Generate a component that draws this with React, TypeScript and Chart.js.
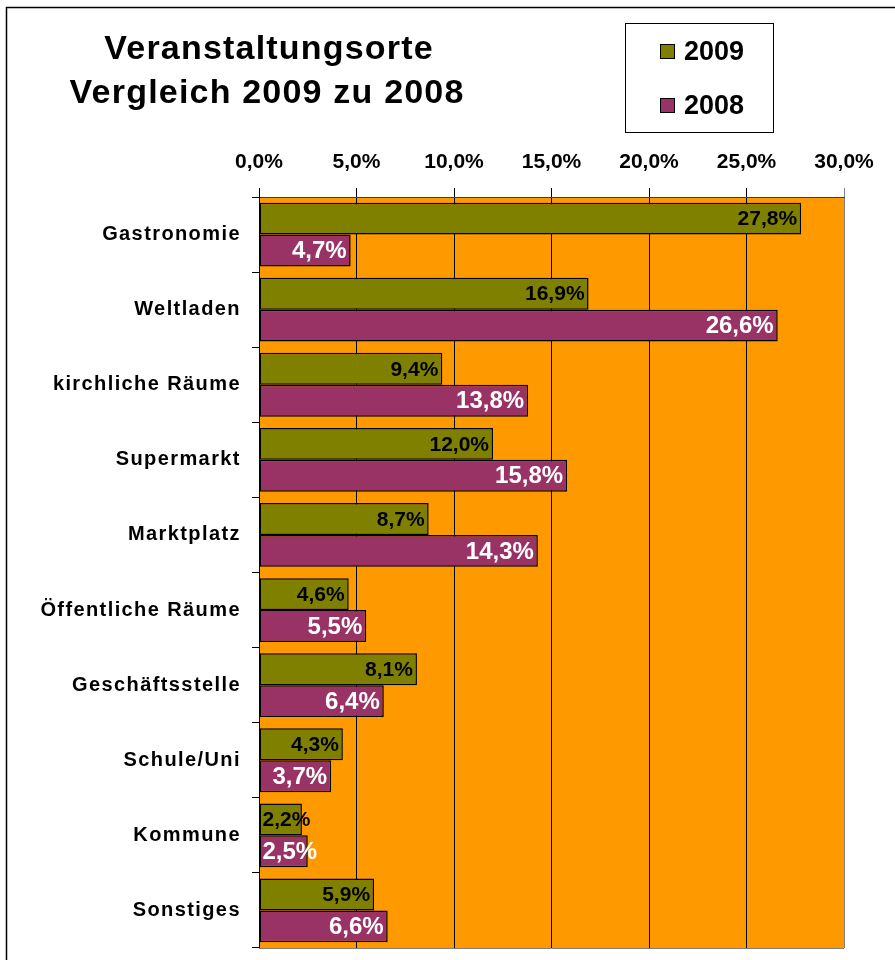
import React, { useEffect, useRef } from "react";
import { Chart, registerables } from "chart.js";

Chart.register(...registerables);

const categories = [
  "Gastronomie",
  "Weltladen",
  "kirchliche Räume",
  "Supermarkt",
  "Marktplatz",
  "Öffentliche Räume",
  "Geschäftsstelle",
  "Schule/Uni",
  "Kommune",
  "Sonstiges",
];
const values2009 = [27.8, 16.9, 9.4, 12.0, 8.7, 4.6, 8.1, 4.3, 2.2, 5.9];
const values2008 = [4.7, 26.6, 13.8, 15.8, 14.3, 5.5, 6.4, 3.7, 2.5, 6.6];
const seriesNames = ["2009", "2008"];
const titleLines = ["Veranstaltungsorte", "Vergleich 2009 zu 2008"];
const xTicks = [0, 5, 10, 15, 20, 25, 30];

const FONT = '"Liberation Sans", Arial, sans-serif';
const GREEN = "#808000";
const PURPLE = "#993366";
const ORANGE = "#FF9900";

const fmt = (v: number) => v.toFixed(1).replace(".", ",") + "%";

const decorPlugin = {
  id: "decor",
  beforeDraw(chart: any) {
    const { ctx, chartArea } = chart;
    ctx.save();
    ctx.fillStyle = "#ffffff";
    ctx.fillRect(0, 0, chart.width, chart.height);
    ctx.fillStyle = ORANGE;
    ctx.fillRect(chartArea.left, chartArea.top, chartArea.right - chartArea.left, chartArea.bottom - chartArea.top);
    // outer frame
    ctx.strokeStyle = "#000000";
    ctx.lineWidth = 1.5;
    ctx.strokeRect(6.5, 7.5, chart.width + 20, chart.height + 20);
    // title
    ctx.fillStyle = "#000000";
    ctx.font = `bold 34px ${FONT}`;
    const tsp = 1.2;
    (ctx as any).letterSpacing = tsp + "px";
    ctx.textAlign = "left";
    ctx.textBaseline = "alphabetic";
    const w1 = ctx.measureText(titleLines[0]).width - tsp;
    const w2 = ctx.measureText(titleLines[1]).width - tsp;
    ctx.fillText(titleLines[0], 268.5 - w1 / 2, 59);
    ctx.fillText(titleLines[1], 266.5 - w2 / 2, 103);
    (ctx as any).letterSpacing = "0px";
    // legend
    ctx.lineWidth = 1;
    ctx.strokeStyle = "#000000";
    ctx.strokeRect(625.5, 23.5, 148, 109);
    const colors = [GREEN, PURPLE];
    const ys = [52, 106];
    ctx.font = `bold 27px ${FONT}`;
    ctx.textAlign = "left";
    ctx.textBaseline = "middle";
    for (let i = 0; i < 2; i++) {
      ctx.fillStyle = colors[i];
      ctx.fillRect(660, ys[i] - 8, 15, 15);
      ctx.strokeStyle = "#000000";
      ctx.strokeRect(660.5, ys[i] - 7.5, 14, 14);
      ctx.fillStyle = "#000000";
      ctx.fillText(seriesNames[i], 684, ys[i] + 1);
    }
    ctx.restore();
  },
  beforeDatasetsDraw(chart: any) {
    const { ctx, chartArea } = chart;
    ctx.save();
    ctx.strokeStyle = "#808080";
    ctx.lineWidth = 1;
    ctx.beginPath();
    ctx.moveTo(chartArea.left, chartArea.bottom + 0.5);
    ctx.lineTo(chartArea.right, chartArea.bottom + 0.5);
    ctx.stroke();
    ctx.restore();
  },
  afterDatasetsDraw(chart: any) {
    const { ctx } = chart;
    ctx.save();
    ctx.textBaseline = "middle";
    chart.data.datasets.forEach((ds: any, di: number) => {
      const meta = chart.getDatasetMeta(di);
      ctx.font = di === 0 ? `bold 21px ${FONT}` : `bold 24px ${FONT}`;
      ctx.fillStyle = di === 0 ? "#000000" : "#ffffff";
      meta.data.forEach((el: any, i: number) => {
        const txt = fmt(ds.data[i]);
        const w = ctx.measureText(txt).width;
        let x = el.x - 4 - w;
        if (x < el.base + 3) x = el.base + 3;
        ctx.textAlign = "left";
        ctx.fillText(txt, x, el.y + 1);
      });
    });
    ctx.restore();
  },
  afterDraw(chart: any) {
    const { ctx } = chart;
    const yScale = chart.scales.y;
    ctx.save();
    ctx.font = `bold 20px ${FONT}`;
    const sp = 1.4;
    (ctx as any).letterSpacing = sp + "px";
    ctx.fillStyle = "#000000";
    ctx.textAlign = "left";
    ctx.textBaseline = "middle";
    categories.forEach((label, i) => {
      const y = yScale.getPixelForValue(i);
      const w = ctx.measureText(label).width - sp;
      ctx.fillText(label, 239.5 - w, y);
    });
    ctx.restore();
  },
};

export default function App() {
  const ref = useRef<HTMLCanvasElement | null>(null);
  useEffect(() => {
    document.body.style.margin = "0";
    const canvas = ref.current!;
    const chart = new Chart(canvas, {
      type: "bar",
      data: {
        labels: categories,
        datasets: [
          {
            label: seriesNames[0],
            data: values2009,
            backgroundColor: GREEN,
            borderColor: "#000000",
            borderWidth: 1.5,
            borderSkipped: false,
            categoryPercentage: 0.85,
            barPercentage: 1.0,
          },
          {
            label: seriesNames[1],
            data: values2008,
            backgroundColor: PURPLE,
            borderColor: "#000000",
            borderWidth: 1.5,
            borderSkipped: false,
            categoryPercentage: 0.85,
            barPercentage: 1.0,
          },
        ],
      },
      options: {
        indexAxis: "y",
        responsive: false,
        animation: false,
        devicePixelRatio: 1,
        layout: { padding: { left: 0, right: 51, top: 0, bottom: 12 } },
        plugins: {
          legend: { display: false },
          title: { display: false },
          tooltip: { enabled: false },
        },
        scales: {
          x: {
            position: "top",
            min: 0,
            max: 30,
            afterBuildTicks(scale: any) {
              scale.ticks = xTicks.map((v) => ({ value: v }));
            },
            afterFit(scale: any) {
              scale.height = 197;
            },
            ticks: {
              callback: (v: any) => fmt(Number(v)),
              font: { family: FONT, size: 21, weight: "bold" },
              color: "#000000",
              padding: 13,
              maxRotation: 0,
              autoSkip: false,
            },
            grid: {
              color: (c: any) => (c.tick && c.tick.value === 30 ? "#808080" : "#000000"),
              lineWidth: 1,
              tickLength: 9,
              drawOnChartArea: true,
            },
            border: { display: true, color: "#404040", width: 1 },
          },
          y: {
            type: "category",
            afterFit(scale: any) {
              scale.width = 259;
              scale.paddingTop = 0;
              scale.paddingBottom = 0;
            },
            ticks: {
              display: false,
              autoSkip: false,
            },
            grid: {
              offset: true,
              drawOnChartArea: false,
              color: "#000000",
              tickLength: 7,
              lineWidth: 1,
            },
            border: { display: true, color: "#000000", width: 1 },
          },
        },
      },
      plugins: [decorPlugin],
    } as any);
    return () => chart.destroy();
  }, []);
  return (
    <canvas
      ref={ref}
      width={895}
      height={960}
      style={{ display: "block", width: "895px", height: "960px" }}
    />
  );
}
